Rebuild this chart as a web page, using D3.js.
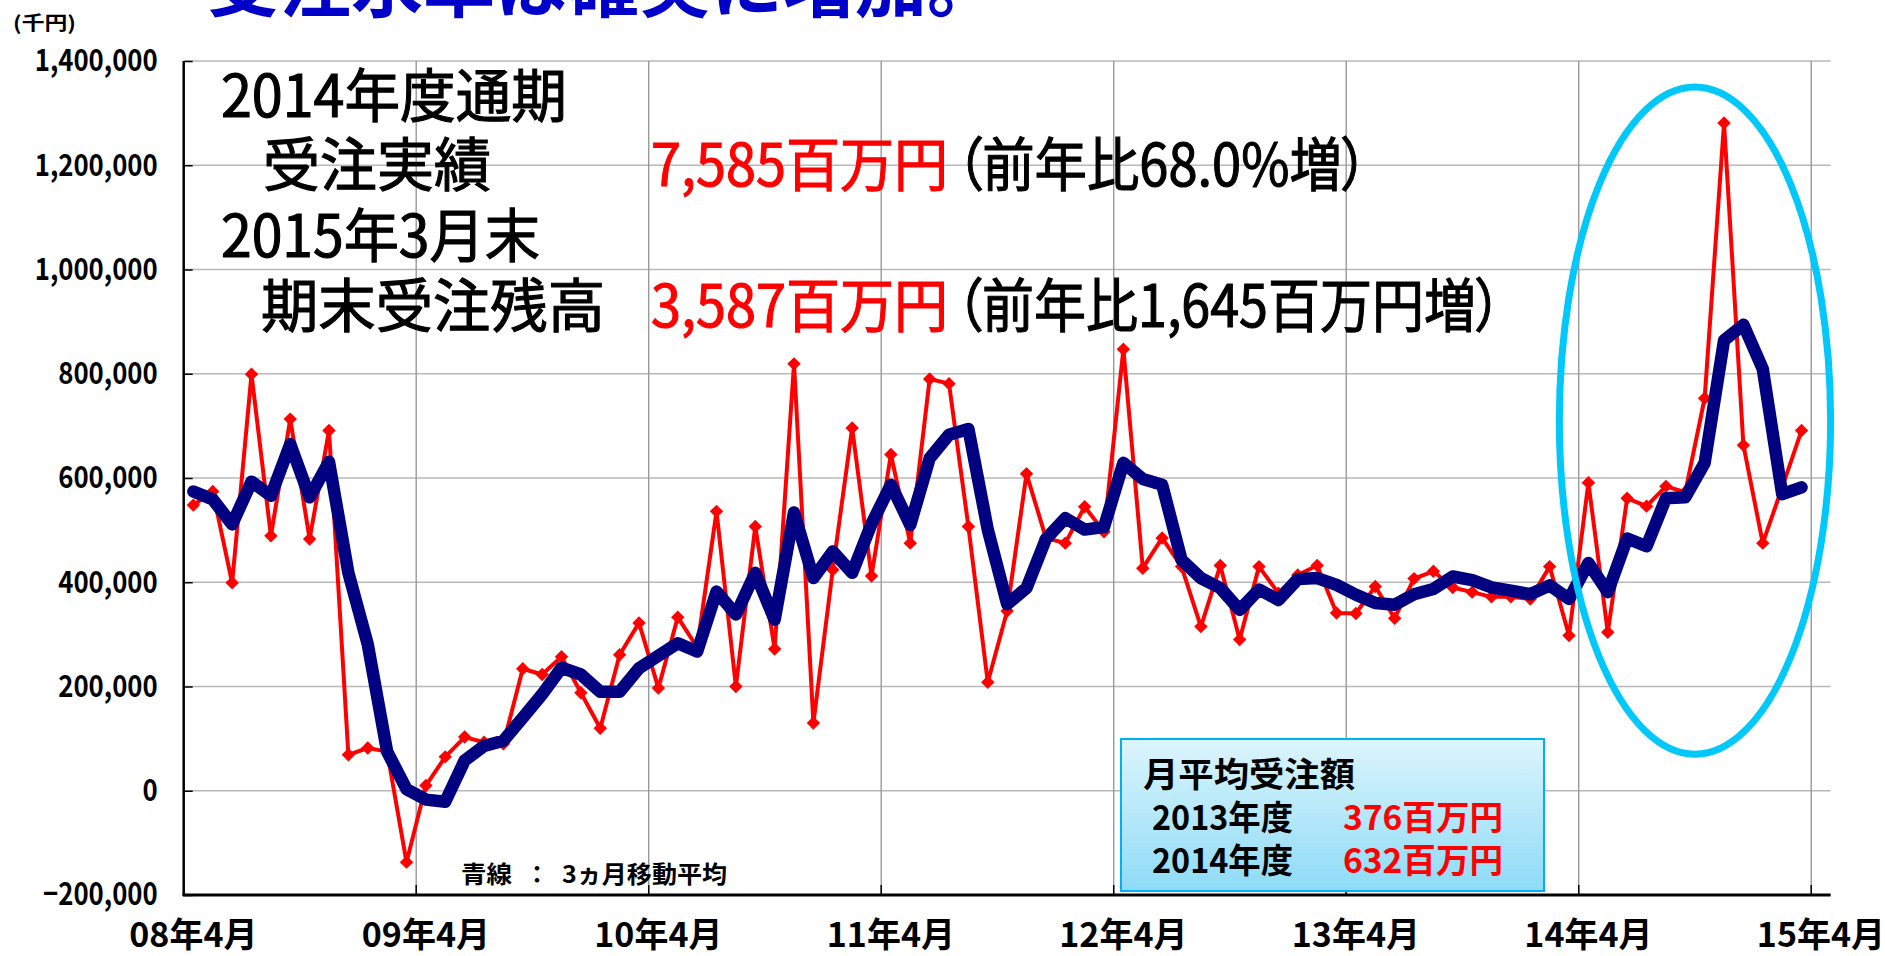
<!DOCTYPE html>
<html>
<head>
<meta charset="utf-8">
<script src="https://d3js.org/d3.v7.min.js"></script>
<style>
body { margin: 0; background: #fff; }
svg text { font-family: "Noto Sans CJK JP", sans-serif; }
.palt { font-feature-settings: "palt"; }
</style>
</head>
<body>
<svg id="svg" width="1885" height="956"></svg>
<script>

// 月別受注額（千円）08年4月～15年3月
var orders = [
	548000, 574000, 399000, 799000, 489000, 713000, 483000, 691000, 69000, 82000, 75000, -137000,
	10000, 65000, 103000, 93000, 90000, 234000, 223000, 257000, 188000, 120000, 261000, 322000,
	197000, 333000, 275000, 536000, 200000, 507000, 272000, 819000, 130000, 424000, 696000, 412000,
	645000, 475000, 790000, 781000, 507000, 208000, 345000, 608000, 485000, 475000, 545000, 497000,
	847000, 427000, 485000, 430000, 315000, 432000, 290000, 430000, 379000, 414000, 432000, 341000,
	340000, 392000, 331000, 407000, 421000, 390000, 381000, 372000, 372000, 368000, 430000, 298000,
	591000, 304000, 561000, 546000, 584000, 573000, 753000, 1281000, 663000, 475000, 582000, 691000
];

// 3ヵ月移動平均（青線）
var average = [
	574000, 559000, 511000, 593000, 566000, 665000, 563000, 631000, 418000, 281000, 75000, 3000,
	-17000, -21000, 58000, 86000, 96000, 140000, 185000, 236000, 223000, 190000, 190000, 235000,
	259000, 283000, 267000, 382000, 338000, 418000, 328000, 534000, 408000, 459000, 418000, 512000,
	587000, 510000, 638000, 683000, 694000, 501000, 358000, 389000, 483000, 523000, 501000, 506000,
	629000, 598000, 587000, 443000, 408000, 389000, 347000, 386000, 366000, 406000, 408000, 395000,
	376000, 360000, 357000, 377000, 387000, 411000, 404000, 390000, 384000, 377000, 394000, 368000,
	437000, 381000, 484000, 469000, 561000, 563000, 629000, 864000, 894000, 809000, 569000, 582000
];

var xTickLabels = ["08年4月", "09年4月", "10年4月", "11年4月", "12年4月", "13年4月", "14年4月", "15年4月"];
var yTicks = [-200000, 0, 200000, 400000, 600000, 800000, 1000000, 1200000, 1400000];
var yTickLabels = ["−200,000", "0", "200,000", "400,000", "600,000", "800,000", "1,000,000", "1,200,000", "1,400,000"];

// 08年4月 ～ 15年4月 の月
var months = [];
for (var k = 0; k < 85; k++) {
	var m = (3 + k) % 12 + 1;
	var yy = 8 + Math.floor((3 + k) / 12);
	months.push((yy < 10 ? "0" + yy : "" + yy) + "年" + m + "月");
}

var svg = d3.select("svg");

var plotLeft = 183.7, plotRight = 1830.6, plotTop = 61, plotBottom = 895;

var x = d3.scaleBand().domain(months).range([plotLeft, plotRight]).padding(0);
var y = d3.scaleLinear().domain([-200000, 1400000]).range([plotBottom, plotTop]);
var bw = x.bandwidth();
var cx = function (i) { return x(months[i]) + bw / 2; };

var fit = function (sel, w) {
	sel.attr("textLength", w).attr("lengthAdjust", "spacingAndGlyphs");
};

// title (上が切れている)
svg.append("text")
	.attr("x", 207).attr("y", 11)
	.style("font-size", "72px").style("font-weight", "bold")
	.style("fill", "#0000c8")
	.text("受注水準は確実に増加。");

fit(svg.append("text")
	.attr("x", 13).attr("y", 30)
	.style("font-size", "19px").style("font-weight", "bold")
	.text("(千円)"), 63);

// grid
var grid = svg.append("g");
grid.selectAll("line.h")
	.data(yTicks)
	.enter().append("line")
	.attr("x1", plotLeft).attr("x2", plotRight)
	.attr("y1", function (d) { return y(d); })
	.attr("y2", function (d) { return y(d); })
	.style("stroke", "#b8b8b8").style("stroke-width", 1.6);

var yearMonths = months.filter(function (d) { return /年4月$/.test(d); });
grid.selectAll("line.v")
	.data(yearMonths.slice(1))
	.enter().append("line")
	.attr("x1", function (d) { return x(d); })
	.attr("x2", function (d) { return x(d); })
	.attr("y1", plotTop).attr("y2", plotBottom)
	.style("stroke", "#9a9a9a").style("stroke-width", 1.4);

// y axis
var yAxis = svg.append("g")
	.attr("transform", "translate(" + plotLeft + ",0)")
	.call(d3.axisLeft(y).tickValues(yTicks)
		.tickFormat(function (d, i) { return yTickLabels[i]; })
		.tickSize(-9).tickPadding(26));
yAxis.select(".domain").remove();
yAxis.selectAll(".tick line").style("stroke", "#000").style("stroke-width", 1.5);
yAxis.selectAll(".tick text")
	.style("font-size", "31px").style("font-weight", "bold")
	.style("fill", "#000").style("font-family", "\"Noto Sans CJK JP\", sans-serif")
	.each(function () {
		fit(d3.select(this), this.getComputedTextLength() * 0.83);
	});

// x axis
var xAxis = svg.append("g")
	.attr("transform", "translate(0," + plotBottom + ")")
	.call(d3.axisBottom(x).tickValues(yearMonths)
		.tickFormat(function (d, i) { return xTickLabels[i]; })
		.tickSize(0).tickPadding(0));
xAxis.select(".domain").remove();
xAxis.selectAll(".tick text")
	.attr("y", 52).attr("dy", null)
	.style("font-size", "34px").style("font-weight", "bold")
	.style("fill", "#000").style("font-family", "\"Noto Sans CJK JP\", sans-serif");
xAxis.selectAll(".tick")
	.append("line")
	.attr("x1", -bw / 2).attr("x2", -bw / 2)
	.attr("y1", 0).attr("y2", -10)
	.style("stroke", "#000").style("stroke-width", 1.5);

svg.append("line")
	.attr("x1", plotLeft).attr("x2", plotLeft).attr("y1", plotTop).attr("y2", plotBottom + 1)
	.style("stroke", "#000").style("stroke-width", 2.5);
svg.append("line")
	.attr("x1", plotLeft - 1).attr("x2", plotRight).attr("y1", plotBottom).attr("y2", plotBottom)
	.style("stroke", "#000").style("stroke-width", 3);

// 受注額（赤）
var line = d3.line()
	.x(function (d, i) { return cx(i); })
	.y(function (d) { return y(d); });

svg.append("path")
	.datum(orders)
	.attr("d", line)
	.style("fill", "none").style("stroke", "#ff0000")
	.style("stroke-width", 4).style("stroke-linejoin", "round");

svg.append("g")
	.selectAll("path")
	.data(orders)
	.enter().append("path")
	.attr("d", d3.symbol(d3.symbolSquare, 90))
	.attr("transform", function (d, i) { return "translate(" + cx(i) + "," + y(d) + ") rotate(45)"; })
	.style("fill", "#ff0000");

// 3ヵ月移動平均（青）
svg.append("path")
	.datum(average)
	.attr("d", line)
	.style("fill", "none").style("stroke", "#000080")
	.style("stroke-width", 12.5).style("stroke-linejoin", "round").style("stroke-linecap", "round");

// 2014年度の山を囲む楕円
svg.append("ellipse")
	.attr("cx", x(months[78]))
	.attr("cy", y(710000))
	.attr("rx", bw * 7)
	.attr("ry", y(0) - y(640000))
	.style("fill", "none").style("stroke", "#00c8fa").style("stroke-width", 7);

// 通期実績の注記
var note = svg.append("g").style("font-size", "58px").style("stroke-width", 1.1);
var noteText = function (tx, ty, s, w, col) {
	col = col || "#000";
	var t = note.append("text").attr("x", tx).attr("y", ty)
		.style("fill", col).style("stroke", col).text(s);
	fit(t, w);
	return t;
};
noteText(221, 117, "2014年度通期", 346);
noteText(263, 186, "受注実績", 228);
noteText(651, 186, "7,585百万円", 297, "#ff0000");
noteText(956, 186, "（前年比68.0%増）", 412).attr("class", "palt");
noteText(221, 257, "2015年3月末", 319);
noteText(261, 327, "期末受注残高", 344);
noteText(651, 327, "3,587百万円", 297, "#ff0000");
noteText(956, 327, "（前年比1,645百万円増）", 546).attr("class", "palt");

// 凡例の注記
var legend = svg.append("g").style("font-size", "24px").style("font-weight", "bold");
fit(legend.append("text").attr("x", 461).attr("y", 883).text("青線"), 51);
legend.append("text").attr("x", 525).attr("y", 883).text("：");
fit(legend.append("text").attr("x", 562).attr("y", 883).text("3ヵ月移動平均"), 165);

// 月平均受注額の囲み
var grad = svg.append("defs").append("linearGradient")
	.attr("id", "boxfill").attr("x1", 0).attr("y1", 0).attr("x2", 0).attr("y2", 1);
grad.append("stop").attr("offset", 0).attr("stop-color", "#dcf5fd");
grad.append("stop").attr("offset", 1).attr("stop-color", "#8edbf6");

svg.append("rect")
	.attr("x", 1121).attr("y", 739).attr("width", 423).attr("height", 152)
	.style("fill", "url(#boxfill)").style("stroke", "#00b0f0").style("stroke-width", 2);

var box = svg.append("g").style("font-size", "34px").style("font-weight", "bold");
fit(box.append("text").attr("x", 1143).attr("y", 787).text("月平均受注額"), 212);
fit(box.append("text").attr("x", 1152).attr("y", 830).text("2013年度"), 141);
fit(box.append("text").attr("x", 1343).attr("y", 830).style("fill", "#ff0000").text("376百万円"), 160);
fit(box.append("text").attr("x", 1152).attr("y", 873).text("2014年度"), 141);
fit(box.append("text").attr("x", 1343).attr("y", 873).style("fill", "#ff0000").text("632百万円"), 160);

</script>
</body>
</html>
